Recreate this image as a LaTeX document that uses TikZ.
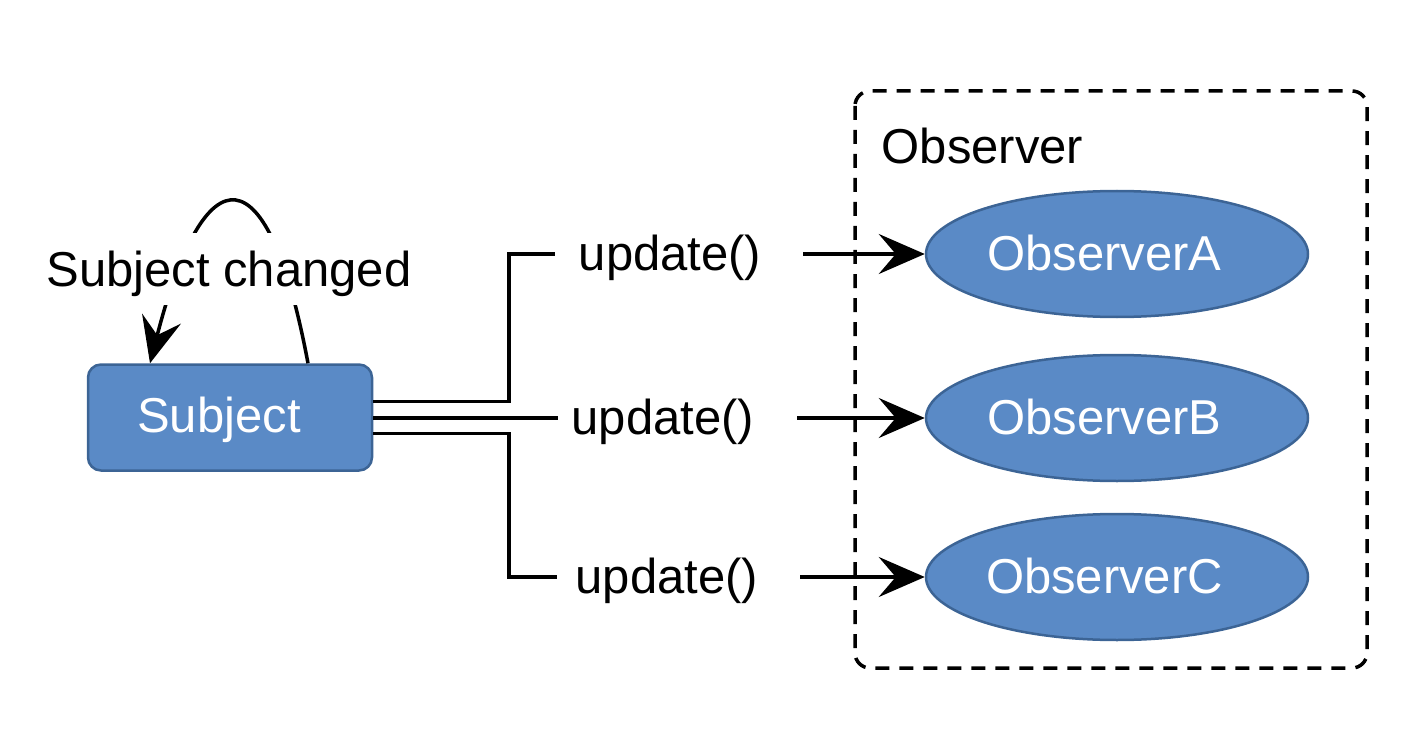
\documentclass[tikz,border=0pt]{standalone}
\usepackage{fontspec}
\setmainfont{Liberation Sans}
\usetikzlibrary{arrows.meta,shapes.geometric}
\definecolor{shapefill}{HTML}{5A8AC6}
\definecolor{shapeline}{HTML}{3C6495}
\tikzset{
  arr/.style={-{Stealth[length=46pt,width=40pt,inset=17pt]}},
  frame/.style={draw=black, dash pattern=on 14pt off 10pt, rounded corners=15pt},
  subjbox/.style={draw=shapeline, fill=shapefill, line width=2.5pt, rounded corners=13pt,
    minimum width=284pt, minimum height=106pt, inner sep=0pt,
    text=white, text height=30pt, text depth=0pt},
  obsnode/.style={ellipse, draw=shapeline, fill=shapefill, line width=2.5pt,
    minimum width=382pt, minimum height=126pt, inner sep=0pt,
    text=white, text height=32pt, text depth=0pt},
  lbl/.style={anchor=west, inner sep=0pt, text height=32pt, text depth=0pt},
  looplbl/.style={fill=white, inner xsep=4pt, inner ysep=6pt, text height=48pt, text depth=12pt},
}
\begin{document}
\begin{tikzpicture}[x=1pt, y=-1pt, line width=3.5pt, font=\fontsize{49}{58}\selectfont]
\useasboundingbox (0,0) rectangle (1422,754);
% observer frame
\draw[frame] (855,91) rectangle (1367,668);
\node[anchor=base west, inner sep=0pt] (OT) at (880,164) {Observer};
% nodes
\node[subjbox] (S) at (230,417.5) {Subject\kern22pt};
\node[obsnode] (A) at (1117,254) {ObserverA\kern25pt};
\node[obsnode] (B) at (1117,418) {ObserverB\kern25pt};
\node[obsnode] (C) at (1117,577) {ObserverC\kern25pt};
% labels
\node[lbl] (uA) at (577,254) {update()};
\node[lbl] (uB) at (570,418) {update()};
\node[lbl] (uC) at (574,577) {update()};
\coordinate (kA) at (509,254);
\coordinate (kC) at (509,577);
% connectors
\draw ([yshift=16pt]S.east) -| (kA) -- ([xshift=-22pt]uA.west);
\draw[arr] ([xshift=40pt]uA.east) -- (A.west);
\draw ([yshift=-0.5pt]S.east) -- ([xshift=-12pt]uB.west);
\draw[arr] ([xshift=41pt]uB.east) -- (B.west);
\draw ([yshift=-16pt]S.east) -| (kC) -- ([xshift=-17pt]uC.west);
\draw[arr] ([xshift=40pt]uC.east) -- (C.west);
% self loop
\draw[arr] ([xshift=78pt]S.north) .. controls (268,150) and (205,150) .. ([xshift=-80pt]S.north);
\node[looplbl] (SC) at (229,269) {Subject changed};
\end{tikzpicture}
\end{document}
